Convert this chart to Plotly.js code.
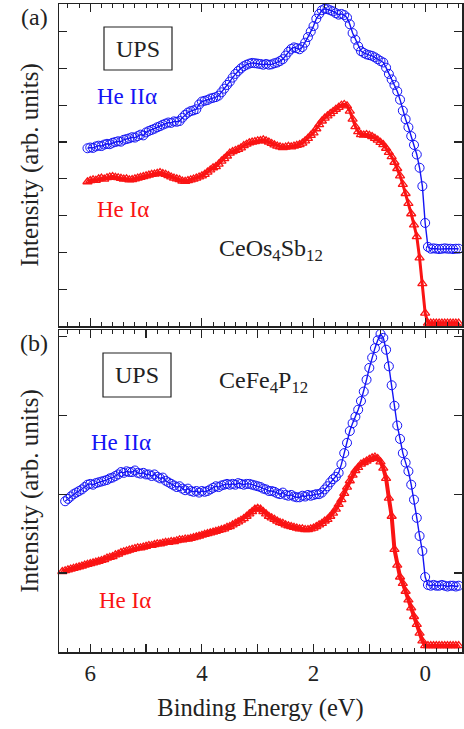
<!DOCTYPE html>
<html>
<head>
<meta charset="utf-8">
<script src="https://cdn.plot.ly/plotly-3.0.1.min.js"></script>
<style>html,body{margin:0;padding:0;background:#fff;}#chart{width:464px;height:729px;}</style>
</head>
<body>
<div id="chart"></div>
<script>
// Binding energy grids (eV)
const energyA = [
6.05,6.00,5.95,5.90,5.85,5.80,5.75,5.70,5.65,5.60,
5.55,5.50,5.45,5.40,5.35,5.30,5.25,5.20,5.15,5.10,
5.05,5.00,4.95,4.90,4.85,4.80,4.75,4.70,4.65,4.60,
4.55,4.50,4.45,4.40,4.35,4.30,4.25,4.20,4.15,4.10,
4.05,4.00,3.95,3.90,3.85,3.80,3.75,3.70,3.65,3.60,
3.55,3.50,3.45,3.40,3.35,3.30,3.25,3.20,3.15,3.10,
3.05,3.00,2.95,2.90,2.85,2.80,2.75,2.70,2.65,2.60,
2.55,2.50,2.45,2.40,2.35,2.30,2.25,2.20,2.15,2.10,
2.05,2.00,1.95,1.90,1.85,1.80,1.75,1.70,1.65,1.60,
1.55,1.50,1.45,1.40,1.35,1.30,1.25,1.20,1.15,1.10,
1.05,1.00,0.95,0.90,0.85,0.80,0.75,0.70,0.65,0.60,
0.55,0.50,0.45,0.40,0.35,0.30,0.25,0.20,0.15,0.10,
0.05,0.00,-0.05,-0.10,-0.15,-0.20,-0.25,-0.30,-0.35,-0.40,
-0.45,-0.50,-0.55,-0.60];

// (a) CeOs4Sb12, He II alpha
const osHeII = [
4.83,4.85,4.84,4.88,4.90,4.89,4.93,4.95,4.94,4.98,
5.00,5.02,5.01,5.06,5.08,5.10,5.13,5.12,5.16,5.20,
5.18,5.26,5.30,5.33,5.36,5.40,5.43,5.47,5.50,5.53,
5.52,5.56,5.55,5.57,5.66,5.74,5.80,5.84,5.86,5.89,
6.02,6.10,6.12,6.14,6.18,6.20,6.22,6.26,6.35,6.45,
6.55,6.64,6.75,6.85,6.93,7.00,7.06,7.10,7.13,7.15,
7.14,7.13,7.12,7.10,7.12,7.10,7.11,7.14,7.16,7.20,
7.25,7.35,7.45,7.53,7.57,7.55,7.52,7.58,7.70,7.85,
8.00,8.15,8.35,8.48,8.58,8.62,8.61,8.58,8.55,8.50,
8.46,8.48,8.45,8.38,8.20,7.96,7.78,7.60,7.47,7.42,
7.38,7.36,7.34,7.30,7.25,7.20,7.16,7.02,6.85,6.70,
6.55,6.38,6.15,5.85,5.62,5.40,5.16,4.92,4.66,4.30,
3.80,2.80,2.15,2.10,2.11,2.10,2.09,2.10,2.11,2.10,
2.10,2.09,2.10,2.10];

// (a) CeOs4Sb12, He I alpha
const osHeI = [
3.92,3.95,3.97,3.96,4.00,4.02,3.99,4.03,4.05,4.06,
4.04,4.03,4.01,3.99,4.00,3.97,3.98,4.00,4.02,4.04,
4.06,4.08,4.10,4.12,4.13,4.15,4.17,4.14,4.12,4.09,
4.05,4.02,4.00,3.98,3.94,3.93,3.95,3.97,3.99,4.02,
4.05,4.08,4.12,4.18,4.24,4.30,4.33,4.40,4.48,4.55,
4.62,4.70,4.74,4.77,4.80,4.84,4.90,4.94,4.98,5.00,
5.01,5.03,5.04,5.06,5.03,5.00,4.96,4.92,4.89,4.87,
4.85,4.86,4.88,4.87,4.89,4.91,4.93,4.97,5.03,5.10,
5.18,5.25,5.36,5.47,5.57,5.65,5.71,5.77,5.83,5.89,
5.94,6.00,6.02,5.98,5.84,5.62,5.42,5.28,5.20,5.19,
5.20,5.18,5.15,5.10,5.05,4.99,4.93,4.83,4.72,4.60,
4.45,4.28,4.08,3.85,3.60,3.33,3.05,2.75,2.43,1.85,
1.15,0.35,0.08,0.08,0.08,0.08,0.08,0.08,0.08,0.08,
0.08,0.08,0.08,0.08];

const energyB = [
6.50,6.45,6.40,6.35,6.30,6.25,6.20,6.15,6.10,6.05,
6.00,5.95,5.90,5.85,5.80,5.75,5.70,5.65,5.60,5.55,
5.50,5.45,5.40,5.35,5.30,5.25,5.20,5.15,5.10,5.05,
5.00,4.95,4.90,4.85,4.80,4.75,4.70,4.65,4.60,4.55,
4.50,4.45,4.40,4.35,4.30,4.25,4.20,4.15,4.10,4.05,
4.00,3.95,3.90,3.85,3.80,3.75,3.70,3.65,3.60,3.55,
3.50,3.45,3.40,3.35,3.30,3.25,3.20,3.15,3.10,3.05,
3.00,2.95,2.90,2.85,2.80,2.75,2.70,2.65,2.60,2.55,
2.50,2.45,2.40,2.35,2.30,2.25,2.20,2.15,2.10,2.05,
2.00,1.95,1.90,1.85,1.80,1.75,1.70,1.65,1.60,1.55,
1.50,1.45,1.40,1.35,1.30,1.25,1.20,1.15,1.10,1.05,
1.00,0.95,0.90,0.85,0.80,0.75,0.70,0.65,0.60,0.55,
0.50,0.45,0.40,0.35,0.30,0.25,0.20,0.15,0.10,0.05,
0.00,-0.05,-0.10,-0.15,-0.20,-0.25,-0.30,-0.35,-0.40,-0.45,
-0.50,-0.55,-0.60];

// (b) CeFe4P12, He II alpha
const feHeII = [
null,1.91,1.94,1.97,2.00,2.02,2.04,2.06,2.09,2.12,
2.13,2.12,2.14,2.15,2.16,2.17,2.18,2.20,2.21,2.23,
2.25,2.28,2.27,2.29,2.28,2.28,2.30,2.27,2.26,2.27,
2.25,2.25,2.23,2.25,2.22,2.20,2.21,2.17,2.15,2.13,
2.11,2.09,2.10,2.07,2.05,2.07,2.04,2.03,2.04,2.02,
2.04,2.03,2.04,2.06,2.08,2.10,2.09,2.11,2.12,2.13,
2.12,2.13,2.12,2.14,2.13,2.12,2.13,2.13,2.12,2.11,
2.10,2.09,2.07,2.06,2.04,2.04,2.03,2.01,2.00,2.02,
1.99,1.98,1.99,1.97,1.96,1.96,1.98,1.97,1.99,1.98,
1.99,2.00,2.00,2.02,2.06,2.10,2.15,2.19,2.22,2.27,
2.38,2.52,2.65,2.80,2.90,2.98,3.07,3.18,3.30,3.45,
3.60,3.73,3.85,3.95,4.03,3.98,3.83,3.62,3.38,3.12,
2.87,2.70,2.52,2.40,2.29,2.12,1.93,1.70,1.47,1.28,
0.95,0.85,0.84,0.85,0.84,0.84,0.85,0.84,0.83,0.84,
0.84,0.83,0.84];

// (b) CeFe4P12, He I alpha
const feHeI = [
1.02,1.03,1.04,1.05,1.06,1.07,1.08,1.09,1.10,1.11,
1.12,1.13,1.14,1.15,1.16,1.17,1.19,1.20,1.21,1.23,
1.24,1.26,1.27,1.28,1.29,1.30,1.31,1.32,1.32,1.33,
1.34,1.35,1.35,1.36,1.37,1.37,1.38,1.39,1.39,1.40,
1.40,1.41,1.42,1.42,1.43,1.43,1.44,1.45,1.46,1.47,
1.48,1.49,1.50,1.51,1.52,1.53,1.54,1.55,1.56,1.58,
1.59,1.61,1.63,1.65,1.67,1.69,1.72,1.75,1.78,1.81,
1.82,1.81,1.78,1.75,1.72,1.70,1.68,1.66,1.64,1.63,
1.61,1.60,1.59,1.58,1.57,1.56,1.56,1.55,1.55,1.56,
1.57,1.59,1.61,1.63,1.66,1.68,1.72,1.76,1.81,1.87,
1.93,2.01,2.09,2.17,2.24,2.30,2.34,2.38,2.40,2.42,
2.44,2.46,2.47,2.45,2.41,2.33,2.20,1.95,1.72,1.30,
1.10,0.95,0.87,0.77,0.66,0.56,0.45,0.35,0.24,0.14,
0.08,0.08,0.08,0.08,0.08,0.08,0.08,0.08,0.08,0.08,
0.08,0.08,0.08];

const xTickVals = [6,5,4,3,2,1,0];
const xTickText = ["6","","4","","2","","0"];

const SERIF = "Liberation Serif";
const BLUE = "rgb(20,20,245)";
const RED = "rgb(250,20,20)";

const W = 464, H = 729, ML = 59, MR = 2, MT = 4, MB = 77;
const PW = W - ML - MR, PH = H - MT - MB;
const px = v => (v - ML) / PW;
const py = v => (H - MB - v) / PH;

function blueTrace(x, y, xa, ya, name) {
  return {x, y, xaxis: xa, yaxis: ya, name, type: "scatter", mode: "lines+markers",
    line: {color: BLUE, width: 1.4},
    marker: {symbol: "circle-open", size: 9, color: BLUE, line: {width: 1, color: BLUE}},
    showlegend: false, cliponaxis: false};
}
function redTrace(x, y, xa, ya, name, lw) {
  return {x, y, xaxis: xa, yaxis: ya, name, type: "scatter", mode: "lines+markers",
    line: {color: RED, width: lw},
    marker: {symbol: "triangle-up-open", size: 8, color: RED, line: {width: 1.3, color: RED}},
    showlegend: false, cliponaxis: false};
}

const data = [
  blueTrace(energyA, osHeII, "x2", "y2", "He IIα (CeOs4Sb12)"),
  redTrace(energyA, osHeI, "x2", "y2", "He Iα (CeOs4Sb12)", 3),
  blueTrace(energyB, feHeII, "x", "y", "He IIα (CeFe4P12)"),
  redTrace(energyB, feHeI, "x", "y", "He Iα (CeFe4P12)", 4)
];

const axisCommon = {
  showline: true, linecolor: "#222", linewidth: 1.5, mirror: "ticks",
  ticks: "inside", tickcolor: "#222", tickwidth: 1.2, showgrid: false, zeroline: false
};

const xRange = [6.56, -0.66];

const layout = {
  width: W, height: H,
  margin: {l: ML, r: MR, t: MT, b: MB},
  paper_bgcolor: "#fff", plot_bgcolor: "#fff",
  font: {family: SERIF, color: "#222", size: 24},
  xaxis: Object.assign({}, axisCommon, {
    domain: [0, 1], anchor: "y", range: xRange,
    tickmode: "array", tickvals: xTickVals, ticktext: xTickText, ticklen: 8,
    minor: {dtick: 0.2, ticklen: 4, ticks: "inside", tickcolor: "#222", tickwidth: 1, showgrid: false},
    tickfont: {size: 23},
    title: {text: "Binding Energy (eV)", font: {size: 24.5}, standoff: 14}
  }),
  xaxis2: Object.assign({}, axisCommon, {
    domain: [0, 1], anchor: "y2", matches: "x", range: xRange,
    tickmode: "array", tickvals: xTickVals, ticktext: xTickText, ticklen: 8,
    showticklabels: false,
    minor: {dtick: 0.2, ticklen: 4, ticks: "inside", tickcolor: "#222", tickwidth: 1, showgrid: false}
  }),
  yaxis: Object.assign({}, axisCommon, {
    domain: [0, py(330)], anchor: "x", range: [0, 4.08], dtick: 1, tick0: 0, ticklen: 8,
    showticklabels: false,
    title: {text: "Intensity (arb. units)", font: {size: 25}, standoff: 12}
  }),
  yaxis2: Object.assign({}, axisCommon, {
    domain: [py(326), 1], anchor: "x2", range: [0, 8.75], dtick: 1, tick0: 0, ticklen: 8,
    showticklabels: false,
    title: {text: "Intensity (arb. units)", font: {size: 25}, standoff: 12}
  }),
  shapes: [
    {type: "rect", xref: "paper", yref: "paper", x0: px(104), x1: px(172), y0: py(70), y1: py(27),
     line: {color: "#222", width: 1.2}, fillcolor: "rgba(0,0,0,0)"},
    {type: "rect", xref: "paper", yref: "paper", x0: px(103), x1: px(171), y0: py(397), y1: py(353),
     line: {color: "#222", width: 1.2}, fillcolor: "rgba(0,0,0,0)"}
  ],
  annotations: [
    {text: "(a)", xref: "paper", yref: "paper", x: px(50), y: py(17), xanchor: "right", yanchor: "middle", showarrow: false, font: {size: 24}},
    {text: "(b)", xref: "paper", yref: "paper", x: px(50), y: py(343), xanchor: "right", yanchor: "middle", showarrow: false, font: {size: 24}},
    {text: "UPS", xref: "paper", yref: "paper", x: px(138), y: py(48.5), xanchor: "center", yanchor: "middle", showarrow: false, font: {size: 24}},
    {text: "UPS", xref: "paper", yref: "paper", x: px(137), y: py(375), xanchor: "center", yanchor: "middle", showarrow: false, font: {size: 24}},
    {text: "He IIα", xref: "paper", yref: "paper", x: px(127), y: py(97), xanchor: "center", yanchor: "middle", showarrow: false, font: {size: 23, color: BLUE}},
    {text: "He Iα", xref: "paper", yref: "paper", x: px(123), y: py(210), xanchor: "center", yanchor: "middle", showarrow: false, font: {size: 23, color: RED}},
    {text: "CeOs<sub>4</sub>Sb<sub>12</sub>", xref: "paper", yref: "paper", x: px(217), y: py(250), xanchor: "left", yanchor: "middle", showarrow: false, font: {size: 24}},
    {text: "He IIα", xref: "paper", yref: "paper", x: px(121), y: py(442), xanchor: "center", yanchor: "middle", showarrow: false, font: {size: 23, color: BLUE}},
    {text: "He Iα", xref: "paper", yref: "paper", x: px(125), y: py(600), xanchor: "center", yanchor: "middle", showarrow: false, font: {size: 23, color: RED}},
    {text: "CeFe<sub>4</sub>P<sub>12</sub>", xref: "paper", yref: "paper", x: px(217), y: py(382), xanchor: "left", yanchor: "middle", showarrow: false, font: {size: 24}}
  ]
};

Plotly.newPlot("chart", data, layout, {staticPlot: true, displayModeBar: false});
</script>
</body>
</html>
